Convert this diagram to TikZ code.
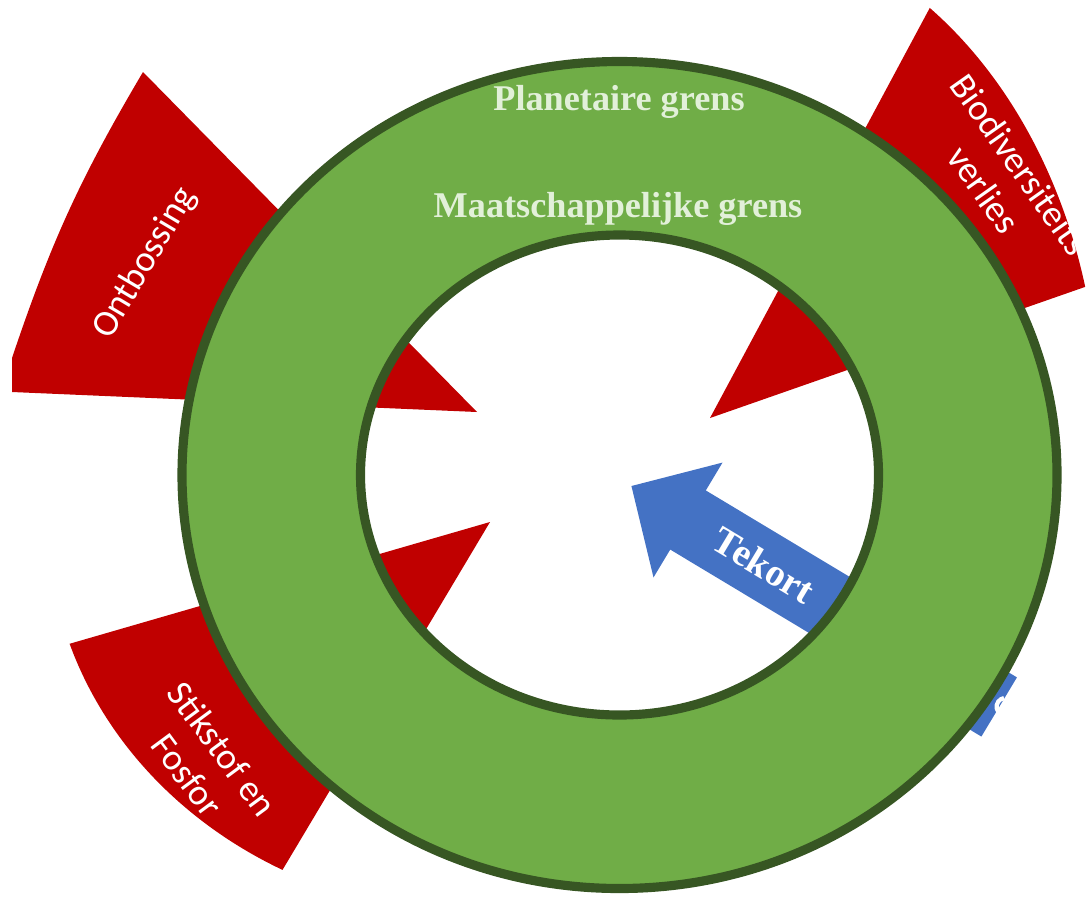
\documentclass[tikz,border=0pt]{standalone}
\usepackage{fontspec}
\setmainfont{Liberation Serif}
\newfontfamily\calfont{Carlito}
\definecolor{ringgreen}{HTML}{70AD47}
\definecolor{ringborder}{HTML}{375623}
\definecolor{wedgered}{HTML}{C00000}
\definecolor{tekortblue}{HTML}{4472C4}
\definecolor{ringtext}{HTML}{E2F0D9}
\tikzset{
  wedge/.style={fill=wedgered},
  wedgelabel/.style={text=white,align=center,font=\calfont\fontsize{10.5}{12.5}\selectfont},
  ringlabel/.style={text=ringtext,font=\bfseries\fontsize{10.3}{12}\selectfont},
}
\begin{document}
\begin{tikzpicture}[x=0.01cm,y=0.01cm]
\useasboundingbox (0,0) rectangle (1086,899);
\clip (0,0) rectangle (1086,899);
\coordinate (centre) at (619.5,424);
\coordinate (ontb) at (477,487);
\coordinate (biod) at (710,481);
\coordinate (stik) at (490,377);
% wedges
\fill[wedge] (ontb) -- (143,827) to[bend right=6] (12,541) -- (12,507) -- cycle;
\fill[wedge] (biod) -- +(55.6:389 and 497) arc[start angle=55.6,end angle=15.3,x radius=389,y radius=497] -- cycle;
\fill[wedge] (stik) -- +(198:442 and 394) arc[start angle=198,end angle=242,x radius=442,y radius=394] -- cycle;
\node[wedgelabel,rotate=59.4] (ontbossing) at (145,636) {Ontbossing};
\node[wedgelabel,rotate=-54.8] (biodiv) at (1002,722) {Biodiversiteits\\verlies};
\node[wedgelabel,rotate=-53.6] (stikstof) at (205,137) {Stikstof en\\Fosfor};
% tekort arrow
\fill[tekortblue,shift={(688,379)},rotate=-31] (0,34.5) -- (363,34.5) -- (363,-34.5) -- (0,-34.5) -- (0,-67) -- (-66,0) -- (0,67) -- cycle;
\draw[white,line width=1.2pt] (1004,201) arc[start angle=100,end angle=220,radius=9];
\node[text=white,font=\bfseries\fontsize{11}{13}\selectfont,rotate=-31] (tekort) at (764,334) {Tekort};
% ring
\fill[ringgreen,even odd rule] (centre) ellipse[x radius=437.5,y radius=413.5] (centre) ellipse[x radius=259,y radius=240];
\draw[ringborder,line width=2.6pt] (centre) ellipse[x radius=437.5,y radius=413.5] (centre) ellipse[x radius=259,y radius=240];
\node[ringlabel] (planetair) at (619,797) {Planetaire grens};
\node[ringlabel] (maatsch) at (618,690) {Maatschappelijke grens};
\end{tikzpicture}
\end{document}
